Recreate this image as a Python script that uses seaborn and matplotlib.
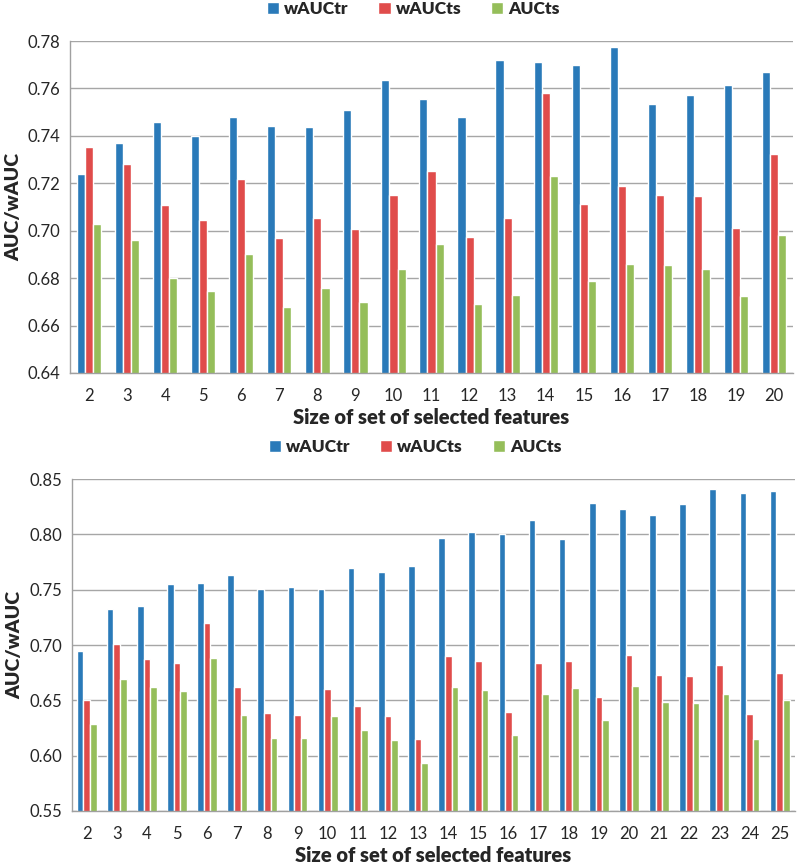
import numpy as np
import pandas as pd
import matplotlib
matplotlib.use("Agg")
import matplotlib.pyplot as plt
import seaborn as sns

# top panel: feature set sizes 2..20
sizes_top = [2, 3, 4, 5, 6, 7, 8, 9, 10, 11, 12, 13, 14, 15, 16, 17, 18, 19, 20]
wauctr_top = [0.724, 0.737, 0.746, 0.740, 0.748, 0.744, 0.7436, 0.751, 0.7635, 0.7557,
              0.748, 0.772, 0.7713, 0.770, 0.7775, 0.7533, 0.7574, 0.7614, 0.767]
waucts_top = [0.7353, 0.728, 0.711, 0.7044, 0.7217, 0.697, 0.7052, 0.7007, 0.715, 0.7252,
              0.6973, 0.7054, 0.7579, 0.7114, 0.719, 0.715, 0.7148, 0.7011, 0.7323]
aucts_top = [0.7027, 0.696, 0.680, 0.6744, 0.690, 0.6677, 0.676, 0.6698, 0.684, 0.6945,
             0.6689, 0.6727, 0.7231, 0.6789, 0.686, 0.6856, 0.6838, 0.6723, 0.698]

# bottom panel: feature set sizes 2..25
sizes_bot = list(range(2, 26))
wauctr_bot = [0.6946, 0.7322, 0.7352, 0.7548, 0.7557, 0.763, 0.7509, 0.7527, 0.7506, 0.7696,
              0.7663, 0.7717, 0.7964, 0.8021, 0.800, 0.813, 0.7958, 0.8286, 0.8226, 0.8175,
              0.8274, 0.8413, 0.8373, 0.8395]
waucts_bot = [0.6503, 0.7009, 0.6873, 0.6834, 0.7196, 0.662, 0.6383, 0.6364, 0.6602, 0.6449,
              0.6361, 0.615, 0.6898, 0.6855, 0.6398, 0.6837, 0.6855, 0.6533, 0.691, 0.6729,
              0.672, 0.6822, 0.6373, 0.675]
aucts_bot = [0.6283, 0.669, 0.662, 0.6581, 0.688, 0.6364, 0.6157, 0.616, 0.6355, 0.6232,
             0.6145, 0.5934, 0.662, 0.6593, 0.6188, 0.6554, 0.6611, 0.6322, 0.6632, 0.6485,
             0.6479, 0.6554, 0.6148, 0.650]

series_names = ["wAUCtr", "wAUCts", "AUCts"]
palette = ["#2A7AB9", "#E04C4B", "#95BE5A"]


def to_long(sizes, a, b, c):
    df = pd.DataFrame({"size": sizes, "wAUCtr": a, "wAUCts": b, "AUCts": c})
    df = df.melt(id_vars="size", var_name="metric", value_name="value")
    df["size"] = df["size"].astype(str)
    return df


df_top = to_long(sizes_top, wauctr_top, waucts_top, aucts_top)
df_bot = to_long(sizes_bot, wauctr_bot, waucts_bot, aucts_bot)

sns.set_style("white")
plt.rcParams["font.family"] = ["Lato", "DejaVu Sans"]

fig = plt.figure(figsize=(8, 8.67), dpi=100)
ax1 = fig.add_axes([0.0875, 0.5698, 0.9038, 0.3829])
ax2 = fig.add_axes([0.0894, 0.0646, 0.904, 0.3829])


def style_axis(ax, df, order, ylim, yticks, ytick_fmt, width):
    sns.barplot(data=df, x="size", y="value", hue="metric", order=order,
                hue_order=series_names, palette=palette, width=width,
                saturation=1, ax=ax)
    ax.set_ylim(*ylim)
    ax.set_yticks(yticks)
    ax.set_yticklabels([ytick_fmt.format(t) for t in yticks], fontsize=12)
    ax.set_xlim(-0.5, len(order) - 0.5)
    ax.yaxis.grid(True, color="#A6A6A6", linewidth=1)
    ax.set_axisbelow(True)
    for s in ["top", "right"]:
        ax.spines[s].set_visible(False)
    for s in ["left", "bottom"]:
        ax.spines[s].set_color("#A0A0A0")
        ax.spines[s].set_linewidth(1)
    # category boundary ticks, Excel style
    ax.set_xticks(np.arange(-0.5, len(order), 1.0), minor=True)
    ax.tick_params(axis="x", which="minor", length=5, color="#A0A0A0", direction="out")
    ax.tick_params(axis="x", which="major", length=0, labelsize=12, pad=11)
    ax.tick_params(axis="y", which="major", length=4, color="#A0A0A0", direction="out", pad=3)
    ax.set_xlabel("Size of set of selected features", fontsize=14.5, fontweight="heavy", labelpad=3)
    ax.set_ylabel("AUC/wAUC", fontsize=14, fontweight="heavy", labelpad=4)
    ax.legend(loc="lower center", bbox_to_anchor=(0.475, 1.025), ncol=3, frameon=False,
              handlelength=0.7, handleheight=0.7, handletextpad=0.3, columnspacing=1.7,
              prop={"weight": "heavy", "size": 12.5})


style_axis(ax1, df_top, [str(s) for s in sizes_top], (0.64, 0.78),
           [0.64, 0.66, 0.68, 0.70, 0.72, 0.74, 0.76, 0.78], "{:.2f}", 0.64)
style_axis(ax2, df_bot, [str(s) for s in sizes_bot], (0.55, 0.85),
           [0.55, 0.60, 0.65, 0.70, 0.75, 0.80, 0.85], "{:.2f}", 0.66)

fig.savefig("out.png", dpi=100)
